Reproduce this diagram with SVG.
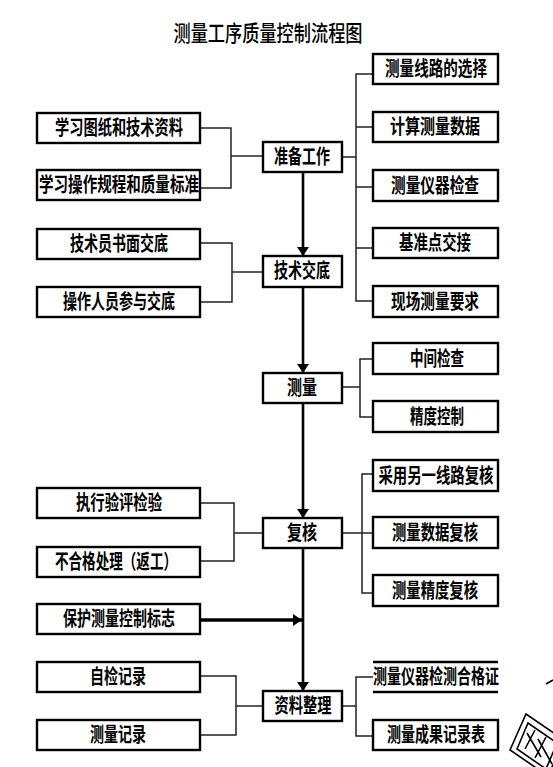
<svg xmlns="http://www.w3.org/2000/svg" width="553" height="767" viewBox="0 0 553 767">
<style>
.box{fill:#fff;stroke:#000;stroke-width:2.4}
.t{font-family:"Noto Sans CJK SC","Noto Sans CJK JP",sans-serif;font-size:20px;font-weight:bold;fill:#000;text-anchor:middle}
.title{font-family:"Noto Sans CJK SC","Noto Sans CJK JP",sans-serif;font-size:22px;font-weight:500;fill:#000;text-anchor:middle}
.c{fill:none;stroke:#222;stroke-width:1.5}
.m{fill:none;stroke:#000;stroke-width:2.6}
</style>
<defs>
<marker id="ah" viewBox="0 0 9 12" refX="9" refY="6" markerWidth="9" markerHeight="12" markerUnits="userSpaceOnUse" orient="auto">
<path d="M0,0 L9,6 L0,12 z" fill="#000"/>
</marker>
<marker id="ahd" viewBox="0 0 12 10" refX="6" refY="12" markerWidth="10" markerHeight="13" markerUnits="userSpaceOnUse" orient="0">
<path d="M1,0 L11,0 L6,12 z" fill="#000"/>
</marker>
</defs>
<rect width="553" height="767" fill="#fff"/>
<text class="title" x="268" y="41" textLength="189" lengthAdjust="spacingAndGlyphs">测量工序质量控制流程图</text>

<g id="connectors">
<line class="m" x1="303" y1="172" x2="303" y2="256" marker-end="url(#ah)"/>
<line class="m" x1="303" y1="287" x2="303" y2="373" marker-end="url(#ah)"/>
<line class="m" x1="303" y1="403" x2="303" y2="518" marker-end="url(#ah)"/>
<line class="m" x1="303" y1="548" x2="303" y2="691" marker-end="url(#ah)"/>
<line x1="200" y1="620" x2="302" y2="620" stroke="#000" stroke-width="3.5" marker-end="url(#ah)"/>
<polyline class="c" points="200,128 231,128 231,188 200,188"/>
<line class="c" x1="231" y1="156" x2="263" y2="156"/>
<polyline class="c" points="200,243 232,243 232,302 200,302"/>
<line class="c" x1="232" y1="272" x2="263" y2="272"/>
<polyline class="c" points="200,503 234,503 234,561 200,561"/>
<line class="c" x1="234" y1="533" x2="263" y2="533"/>
<polyline class="c" points="200,676 236,676 236,735 200,735"/>
<line class="c" x1="236" y1="706" x2="263" y2="706"/>
<polyline class="c" points="373,74 356,74 356,301 373,301"/>
<line class="c" x1="356" y1="127" x2="373" y2="127"/>
<line class="c" x1="356" y1="187" x2="373" y2="187"/>
<line class="c" x1="356" y1="248" x2="373" y2="248"/>
<line class="c" x1="342" y1="157" x2="356" y2="157"/>
<polyline class="c" points="373,359 360,359 360,417 373,417"/>
<line class="c" x1="342" y1="387" x2="360" y2="387"/>
<polyline class="c" points="373,474 362,474 362,593 373,593"/>
<line class="c" x1="342" y1="533" x2="373" y2="533"/>
<polyline class="c" points="373,677 356,677 356,736 373,736"/>
<line class="c" x1="342" y1="706" x2="356" y2="706"/>
</g>

<g id="L1"><rect class="box" x="37" y="113" width="163" height="30"/><text class="t" x="119" y="135" textLength="128" lengthAdjust="spacingAndGlyphs">学习图纸和技术资料</text></g>
<g id="L2"><rect class="box" x="37" y="170" width="163" height="30"/><text class="t" x="119" y="192" textLength="160" lengthAdjust="spacingAndGlyphs">学习操作规程和质量标准</text></g>
<g id="L3"><rect class="box" x="37" y="229" width="163" height="30"/><text class="t" x="119" y="251" textLength="98" lengthAdjust="spacingAndGlyphs">技术员书面交底</text></g>
<g id="L4"><rect class="box" x="37" y="287" width="163" height="30"/><text class="t" x="119" y="309" textLength="112" lengthAdjust="spacingAndGlyphs">操作人员参与交底</text></g>
<g id="L5"><rect class="box" x="37" y="488" width="163" height="30"/><text class="t" x="119" y="510" textLength="86" lengthAdjust="spacingAndGlyphs">执行验评检验</text></g>
<g id="L6"><rect class="box" x="37" y="547" width="163" height="30"/><text class="t" x="116" y="569" textLength="122" lengthAdjust="spacingAndGlyphs">不合格处理（返工）</text></g>
<g id="L7"><rect class="box" x="37" y="604" width="163" height="30"/><text class="t" x="119" y="626" textLength="112" lengthAdjust="spacingAndGlyphs">保护测量控制标志</text></g>
<g id="L8"><rect class="box" x="37" y="662" width="163" height="30"/><text class="t" x="118" y="684" textLength="56" lengthAdjust="spacingAndGlyphs">自检记录</text></g>
<g id="L9"><rect class="box" x="37" y="720" width="163" height="30"/><text class="t" x="118" y="742" textLength="56" lengthAdjust="spacingAndGlyphs">测量记录</text></g>

<g id="C1"><rect class="box" x="263" y="142" width="79" height="30"/><text class="t" x="302" y="164" textLength="56" lengthAdjust="spacingAndGlyphs">准备工作</text></g>
<g id="C2"><rect class="box" x="263" y="256" width="79" height="31"/><text class="t" x="302" y="278" textLength="56" lengthAdjust="spacingAndGlyphs">技术交底</text></g>
<g id="C3"><rect class="box" x="263" y="373" width="79" height="30"/><text class="t" x="302" y="395" textLength="30" lengthAdjust="spacingAndGlyphs">测量</text></g>
<g id="C4"><rect class="box" x="263" y="518" width="79" height="30"/><text class="t" x="302" y="540" textLength="30" lengthAdjust="spacingAndGlyphs">复核</text></g>
<g id="C5"><rect class="box" x="263" y="691" width="79" height="30"/><text class="t" x="303" y="713" textLength="57" lengthAdjust="spacingAndGlyphs">资料整理</text></g>

<g id="R1"><rect class="box" x="373" y="54" width="125" height="30"/><text class="t" x="436" y="76" textLength="102" lengthAdjust="spacingAndGlyphs">测量线路的选择</text></g>
<g id="R2"><rect class="box" x="373" y="112" width="125" height="30"/><text class="t" x="435" y="134" textLength="90" lengthAdjust="spacingAndGlyphs">计算测量数据</text></g>
<g id="R3"><rect class="box" x="373" y="170" width="125" height="31"/><text class="t" x="435" y="193" textLength="88" lengthAdjust="spacingAndGlyphs">测量仪器检查</text></g>
<g id="R4"><rect class="box" x="373" y="228" width="125" height="30"/><text class="t" x="435" y="250" textLength="72" lengthAdjust="spacingAndGlyphs">基准点交接</text></g>
<g id="R5"><rect class="box" x="373" y="286" width="125" height="31"/><text class="t" x="435" y="309" textLength="88" lengthAdjust="spacingAndGlyphs">现场测量要求</text></g>
<g id="R6"><rect class="box" x="373" y="343" width="125" height="31"/><text class="t" x="437" y="366" textLength="54" lengthAdjust="spacingAndGlyphs">中间检查</text></g>
<g id="R7"><rect class="box" x="373" y="401" width="125" height="31"/><text class="t" x="437" y="424" textLength="54" lengthAdjust="spacingAndGlyphs">精度控制</text></g>
<g id="R8"><rect class="box" x="373" y="460" width="125" height="31"/><text class="t" x="436" y="483" textLength="115" lengthAdjust="spacingAndGlyphs">采用另一线路复核</text></g>
<g id="R9"><rect class="box" x="373" y="517" width="125" height="31"/><text class="t" x="435" y="540" textLength="86" lengthAdjust="spacingAndGlyphs">测量数据复核</text></g>
<g id="R10"><rect class="box" x="373" y="575" width="125" height="31"/><text class="t" x="435" y="598" textLength="86" lengthAdjust="spacingAndGlyphs">测量精度复核</text></g>
<g id="R11"><rect x="373" y="662" width="125" height="30" fill="#fff"/><line x1="373" y1="662" x2="498" y2="662" stroke="#000" stroke-width="2.4"/><line x1="373" y1="692" x2="498" y2="692" stroke="#000" stroke-width="2.4"/><text class="t" x="436" y="684" textLength="126" lengthAdjust="spacingAndGlyphs">测量仪器检测合格证</text></g>
<g id="R12"><rect class="box" x="373" y="720" width="125" height="30"/><text class="t" x="436" y="742" textLength="98" lengthAdjust="spacingAndGlyphs">测量成果记录表</text></g>

<g id="stamp" fill="none" stroke="#000" stroke-width="1.6">
<path d="M546,684 L553,680"/>
<polygon points="510,750 526,714 564,740 548,776"/>
<polygon points="517,749 528,723 557,743 546,769"/>
<path d="M527,733 L541,757 M535,730 L525,749 M538,739 L552,764 M546,737 L535,758"/>
</g>
</svg>
